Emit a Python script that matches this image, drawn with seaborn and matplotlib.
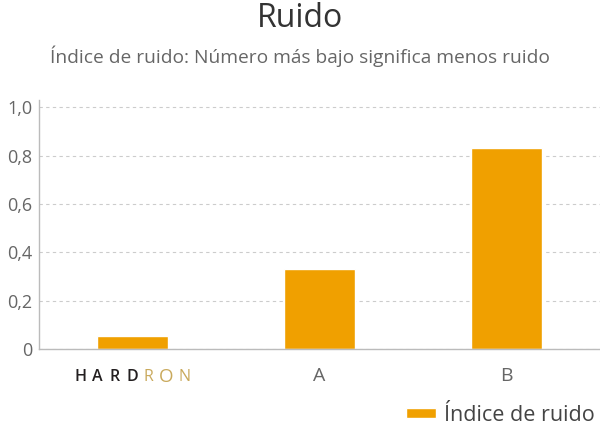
import matplotlib
matplotlib.use("Agg")
import matplotlib.pyplot as plt
import seaborn as sns
import pandas as pd
from matplotlib.ticker import FuncFormatter, FixedLocator

# datos
categorias = ["HARDRON", "A", "B"]
valores = [0.055, 0.333, 0.833]
yticks = [0, 0.2, 0.4, 0.6, 0.8, 1.0]

data = pd.DataFrame({"categoria": categorias, "valor": valores})

sns.set_style("white")
plt.rcParams['font.family'] = ['Open Sans', 'DejaVu Sans']

fig = plt.figure(figsize=(6, 4.3), dpi=100)
ax = fig.add_axes([0.065, 0.188, 0.935, 0.579])

sns.barplot(data=data, x="categoria", y="valor", color="#F0A000", width=0.375,
            saturation=1, ax=ax, label="Índice de ruido")

ax.set_ylim(0, 1.03)
ax.set_xlim(-0.5, 2.5)
ax.set_yticks(yticks)
ax.yaxis.set_major_formatter(FuncFormatter(lambda v, p: "0" if v == 0 else f"{v:.1f}".replace(".", ",")))
ax.tick_params(axis="y", length=0, labelsize=13, labelcolor="#666666", pad=5)
ax.grid(axis="y", linestyle=(0, (3, 3)), color="#cccccc", linewidth=0.8)
ax.set_axisbelow(True)

for s in ["top", "right"]:
    ax.spines[s].set_visible(False)
for s in ["left", "bottom"]:
    ax.spines[s].set_color("#bbbbbb")
    ax.spines[s].set_linewidth(1)

ax.set_xlabel("")
ax.set_ylabel("")
ax.set_xticks(range(len(categorias)))
ax.set_xticklabels(["", "A", "B"])
ax.tick_params(axis="x", length=0, labelsize=14, labelcolor="#666666", pad=13)
ax.xaxis.set_minor_locator(FixedLocator([0.5, 1.5]))
ax.tick_params(axis="x", which="minor", direction="in", length=4, color="#bbbbbb")

# logo HARDRON como texto, letras espaciadas
letras = list("HARDRON")
colores = ["#231f20"] * 4 + ["#c9a95c"] * 3
offsets = [-52, -35, -18, 0, 16, 34, 52]
for l, c, dx in zip(letras, colores, offsets):
    ax.annotate(l, xy=(0, 0), xycoords=("data", "axes fraction"),
                xytext=(dx, -28), textcoords="offset pixels",
                ha="center", va="center", fontsize=13.5 if l == "O" else 11.5,
                fontweight="semibold" if c == "#231f20" else "normal",
                color=c, family=["Open Sans", "DejaVu Sans"])

fig.text(0.5, 0.957, "Ruido", ha="center", va="center", fontsize=23, color="#333333")
fig.text(0.5, 0.87, "Índice de ruido: Número más bajo significa menos ruido",
         ha="center", va="center", fontsize=13.8, color="#666666")

leg = ax.legend(loc="lower right", bbox_to_anchor=(1.025, -0.385), frameon=False,
                fontsize=15.5, handlelength=1.4, handleheight=0.4, handletextpad=0.35,
                labelcolor="#444444")

fig.savefig("out.png", dpi=100)
